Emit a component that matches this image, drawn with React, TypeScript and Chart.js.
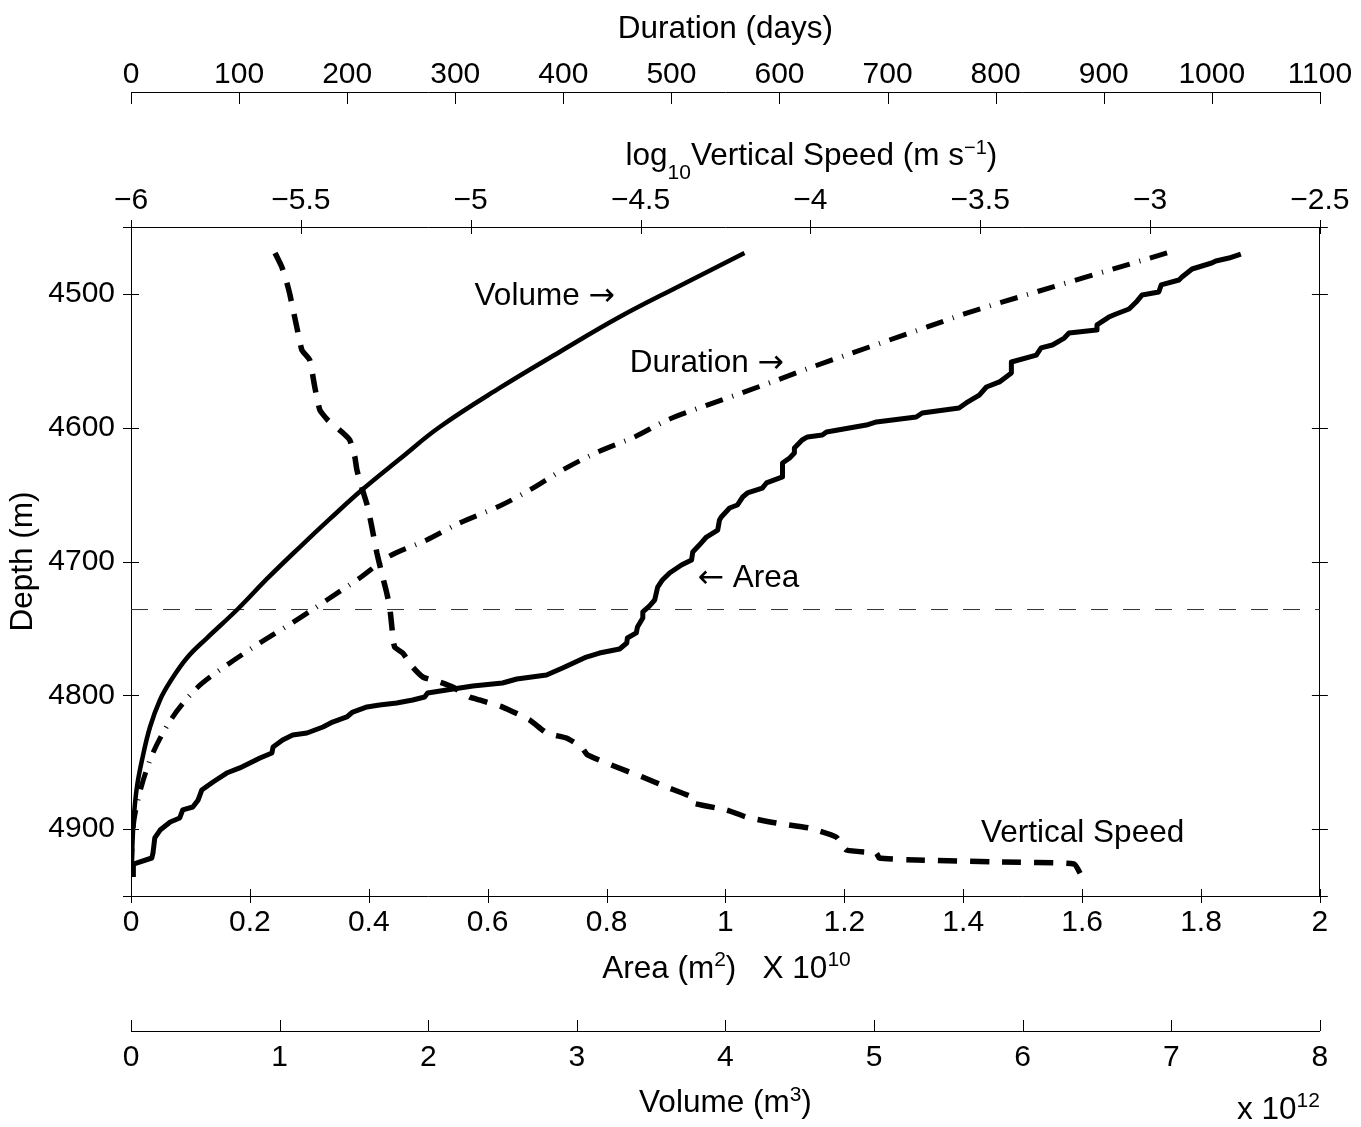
import React, { useEffect, useRef } from "react";
import { Chart, registerables } from "chart.js";

Chart.register(...registerables);

const FONT = "'Liberation Sans', Arial, Helvetica, sans-serif";
const ARROW_FONT = "'DejaVu Sans', 'Liberation Sans', sans-serif";

// ---- axis ticks ----
const depthTicks = [4500, 4600, 4700, 4800, 4900];
const depthTickLabels = ["4500", "4600", "4700", "4800", "4900"];
const areaTicks = [0, 0.2, 0.4, 0.6, 0.8, 1, 1.2, 1.4, 1.6, 1.8, 2];
const areaTickLabels = ["0", "0.2", "0.4", "0.6", "0.8", "1", "1.2", "1.4", "1.6", "1.8", "2"];
const volumeTicks = [0, 1, 2, 3, 4, 5, 6, 7, 8];
const volumeTickLabels = ["0", "1", "2", "3", "4", "5", "6", "7", "8"];
const speedTicks = [-6, -5.5, -5, -4.5, -4, -3.5, -3, -2.5];
const speedTickLabels = ["\u22126", "\u22125.5", "\u22125", "\u22124.5", "\u22124", "\u22123.5", "\u22123", "\u22122.5"];
const durationTicks = [0, 100, 200, 300, 400, 500, 600, 700, 800, 900, 1000, 1100];
const durationTickLabels = ["0", "100", "200", "300", "400", "500", "600", "700", "800", "900", "1000", "1100"];

// ---- series (x value, depth) ----
const areaValues = [0.004,0.004,0.035,0.037,0.040,0.049,0.066,0.082,0.087,0.104,0.113,0.119,0.138,0.161,0.183,0.217,0.237,0.239,0.255,0.272,0.296,0.323,0.339,0.363,0.373,0.397,0.418,0.447,0.474,0.494,0.499,0.531,0.575,0.625,0.649,0.699,0.726,0.766,0.788,0.822,0.834,0.835,0.850,0.852,0.861,0.861,0.872,0.881,0.886,0.894,0.906,0.926,0.943,0.945,0.956,0.968,0.987,0.990,0.993,1.007,1.020,1.029,1.037,1.062,1.069,1.096,1.096,1.108,1.116,1.116,1.129,1.138,1.163,1.170,1.237,1.254,1.321,1.331,1.393,1.405,1.427,1.439,1.461,1.481,1.481,1.523,1.531,1.550,1.570,1.578,1.624,1.625,1.645,1.657,1.679,1.691,1.701,1.729,1.733,1.763,1.768,1.785,1.818,1.825,1.847,1.867];
const areaDepths = [4935.8,4926.1,4921.6,4917.9,4906.6,4900.7,4894.7,4891.7,4885.7,4883.5,4878.2,4870.8,4864.8,4858.1,4854.3,4846.9,4843.1,4838.6,4833.4,4829.7,4828.2,4823.7,4820.0,4816.2,4812.5,4808.7,4807.3,4805.8,4803.5,4801.3,4798.3,4796.0,4793.0,4790.8,4787.8,4784.8,4779.6,4771.4,4768.4,4765.4,4760.9,4757.2,4753.4,4749.0,4742.2,4737.7,4733.3,4728.8,4719.1,4713.8,4708.6,4702.6,4698.9,4692.9,4687.7,4681.7,4676.5,4669.0,4666.7,4660.0,4657.8,4651.8,4648.8,4645.1,4641.3,4636.8,4626.4,4622.6,4618.9,4615.2,4609.2,4606.9,4605.5,4603.2,4598.0,4595.7,4592.0,4589.0,4585.3,4581.5,4575.6,4569.6,4565.8,4559.1,4550.9,4545.7,4540.4,4538.2,4533.0,4529.2,4527.0,4523.2,4517.3,4515.0,4511.3,4506.1,4500.8,4498.6,4493.3,4489.6,4487.4,4481.4,4476.9,4475.4,4473.2,4470.2];

const volumeValues = [4.128,3.691,3.287,2.884,2.481,2.077,1.808,1.553,1.338,1.136,0.921,0.719,0.511,0.376,0.262,0.195,0.128,0.074,0.040,0.020,0.013,0.007,0.003];
const volumeDepths = [4469.4,4494.1,4517.3,4543.4,4570.3,4599.5,4623.4,4646.6,4668.2,4689.2,4712.3,4735.5,4757.2,4772.1,4790.1,4803.5,4823.7,4848.4,4868.5,4889.5,4902.9,4919.4,4935.8];

const durationValues = [958.6,803.3,770.9,736.7,701.6,664.6,630.4,598.1,564.8,530.6,496.4,465.9,431.7,399.3,368.8,341.1,304.1,273.6,239.4,211.7,181.2,170.1,148.8,119.2,88.7,61.0,37.9,20.3,9.2,2.8,0.9,0.5];
const durationDepths = [4469.4,4506.8,4515.0,4524.7,4534.5,4544.9,4554.6,4564.3,4574.1,4583.8,4594.2,4606.9,4618.2,4631.6,4646.6,4658.5,4671.2,4683.9,4695.9,4712.3,4728.8,4734.8,4746.0,4760.9,4777.4,4794.5,4817.0,4843.1,4869.3,4893.2,4915.6,4932.1];

const speedValues = [-5.576,-5.556,-5.541,-5.532,-5.512,-5.497,-5.474,-5.459,-5.444,-5.421,-5.379,-5.356,-5.341,-5.335,-5.321,-5.303,-5.291,-5.276,-5.262,-5.247,-5.238,-5.232,-5.224,-5.200,-5.171,-5.141,-5.091,-5.053,-5.003,-4.974,-4.906,-4.826,-4.776,-4.718,-4.674,-4.656,-4.571,-4.494,-4.424,-4.350,-4.347,-4.247,-4.188,-4.100,-4.003,-3.924,-3.894,-3.806,-3.797,-3.688,-3.444,-3.224,-3.200];
const speedDepths = [4469.4,4479.9,4491.9,4500.8,4524.7,4541.9,4549.4,4569.6,4586.8,4594.2,4603.2,4609.2,4621.9,4631.6,4644.3,4659.3,4674.2,4693.7,4708.6,4723.6,4734.8,4749.0,4763.9,4768.4,4778.9,4786.3,4790.1,4793.8,4801.3,4803.5,4808.8,4818.5,4828.2,4831.9,4838.6,4844.6,4853.6,4861.1,4868.5,4876.0,4880.5,4885.7,4891.0,4895.5,4899.2,4905.9,4915.6,4917.9,4921.6,4923.1,4924.6,4926.1,4935.8];

const markerDepth = 4735.9;
const markerSpan = [0, 2];

// in-plot labels (area value, depth); arrows before/after
const labelTexts = ["Volume ", "Duration ", " Area", "Vertical Speed"];
const labelArrows = ["after", "after", "before", "none"];
const labelArea = [0.578, 0.839, 0.953, 1.43];
const labelDepth = [4508.3, 4558.4, 4719.1, 4909.6];

const toPoints = (xs: number[], ds: number[]) => xs.map((x, i) => ({ x, y: ds[i] }));

type Part = [string, number, number, string?];

function drawParts(ctx: CanvasRenderingContext2D, parts: Part[], x: number, y: number, align: string) {
  let total = 0;
  const widths = parts.map(([t, s, _d, f]) => {
    ctx.font = `${s}px ${f || FONT}`;
    const w = ctx.measureText(t).width;
    total += w;
    return w;
  });
  let cx = align === "left" ? x : align === "center" ? x - total / 2 : x - total;
  ctx.textAlign = "left";
  ctx.textBaseline = "alphabetic";
  parts.forEach(([t, s, dy, f], i) => {
    ctx.font = `${s}px ${f || FONT}`;
    ctx.fillText(t, cx, y + dy);
    cx += widths[i];
  });
}

const decor = {
  id: "decor",
  afterDraw(chart: any) {
    const { ctx, chartArea: ca, scales } = chart;
    ctx.save();
    ctx.strokeStyle = "#000";
    ctx.fillStyle = "#000";
    ctx.lineWidth = 1;
    const line = (x1: number, y1: number, x2: number, y2: number) => {
      ctx.beginPath();
      ctx.moveTo(x1, y1);
      ctx.lineTo(x2, y2);
      ctx.stroke();
    };
    const px = (v: number) => Math.round(v) + 0.5;
    const depth = scales.depth;
    [depth.min, ...depthTicks, depth.max].forEach((v: number) => {
      const y = px(depth.getPixelForValue(v));
      line(ca.left - 8, y, ca.left + 8, y);
      line(ca.right - 8, y, ca.right + 8, y);
    });
    areaTicks.forEach((v) => {
      const x = px(scales.area.getPixelForValue(v));
      line(x, ca.bottom - 7, x, ca.bottom + 7);
    });
    speedTicks.forEach((v) => {
      const x = px(scales.speed.getPixelForValue(v));
      line(x, ca.top - 7, x, ca.top + 7);
    });
    const dur = scales.duration;
    durationTicks.forEach((v) => {
      const x = px(dur.getPixelForValue(v));
      line(x, dur.bottom, x, dur.bottom + 12);
    });
    const vol = scales.volume;
    volumeTicks.forEach((v) => {
      const x = px(vol.getPixelForValue(v));
      line(x, vol.top, x, vol.top - 11);
    });

    // in-plot labels
    labelTexts.forEach((t, i) => {
      const parts: Part[] = [];
      if (labelArrows[i] === "before") parts.push(["\u2190", 31.5, 0, ARROW_FONT]);
      parts.push([t, 31.5, 0]);
      if (labelArrows[i] === "after") parts.push(["\u2192", 31.5, 0, ARROW_FONT]);
      drawParts(ctx, parts, scales.area.getPixelForValue(labelArea[i]), depth.getPixelForValue(labelDepth[i]), "left");
    });

    // axis titles with sub/superscripts
    const sp = scales.speed;
    drawParts(
      ctx,
      [["log", 31.5, 0], ["10", 21, 14], ["Vertical Speed (m s", 31.5, 0], ["\u22121", 20, -11], [")", 31.5, 0]],
      (sp.left + sp.right) / 2 + 86,
      sp.top + 73,
      "center"
    );
    const ar = scales.area;
    drawParts(
      ctx,
      [["Area (m", 31.5, 0], ["2", 21, -12], [")   X 10", 31.5, 0], ["10", 21, -12]],
      (ar.left + ar.right) / 2 + 1,
      ar.top + 82,
      "center"
    );
    drawParts(
      ctx,
      [["Volume (m", 31.5, 0], ["3", 21, -11], [")", 31.5, 0]],
      (vol.left + vol.right) / 2,
      vol.top + 81,
      "center"
    );
    drawParts(ctx, [["x 10", 31.5, 0], ["12", 21, -12]], vol.right, vol.top + 88, "right");
    ctx.restore();
  },
};

const tickFont = { family: FONT, size: 30, lineHeight: 1 };
const titleFont = { family: FONT, size: 31.5, lineHeight: 1 };

function xScale(position: string, weight: number, min: number, max: number, ticks: number[], labels: string[], size: number, padding: number, extra: any = {}) {
  return {
    type: "linear",
    position,
    weight,
    min,
    max,
    afterBuildTicks: (s: any) => {
      s.ticks = ticks.map((v) => ({ value: v }));
    },
    afterFit: (s: any) => {
      s.height = size;
    },
    grid: { display: false, drawTicks: false },
    border: { display: true, color: "#000", width: 1 },
    ticks: {
      color: "#000",
      font: tickFont,
      padding,
      autoSkip: false,
      maxRotation: 0,
      minRotation: 0,
      callback: (_v: any, i: number) => labels[i],
    },
    ...extra,
  };
}

export default function App() {
  const ref = useRef<HTMLCanvasElement>(null);
  useEffect(() => {
    const lineBase = { showLine: true, pointRadius: 0, pointHoverRadius: 0, borderColor: "#000", yAxisID: "depth", fill: false };
    const chart = new Chart(ref.current as HTMLCanvasElement, {
      type: "scatter",
      data: {
        datasets: [
          { ...lineBase, label: "Area", data: toPoints(areaValues, areaDepths), xAxisID: "area", borderWidth: 5, tension: 0, borderJoinStyle: "round" },
          { ...lineBase, label: "Volume", data: toPoints(volumeValues, volumeDepths), xAxisID: "volume", borderWidth: 4.5, tension: 0.4 },
          { ...lineBase, label: "Duration", data: toPoints(durationValues, durationDepths), xAxisID: "duration", borderWidth: 5, tension: 0.3, borderDash: [18, 10, 1, 10], borderCapStyle: "butt" },
          { ...lineBase, label: "Vertical Speed", data: toPoints(speedValues, speedDepths), xAxisID: "speed", borderWidth: 5.5, tension: 0.15, borderDash: [19, 13], borderCapStyle: "butt" },
          { ...lineBase, label: "marker", data: markerSpan.map((x) => ({ x, y: markerDepth })), xAxisID: "area", borderColor: "#333", borderWidth: 1, borderDash: [17, 15] },
        ],
      } as any,
      options: {
        responsive: false,
        animation: false,
        events: [],
        layout: { padding: 0 },
        plugins: { legend: { display: false }, tooltip: { enabled: false } },
        scales: {
          depth: {
            type: "linear",
            position: "left",
            reverse: true,
            min: 4450,
            max: 4950,
            afterBuildTicks: (s: any) => {
              s.ticks = depthTicks.map((v) => ({ value: v }));
            },
            afterFit: (s: any) => {
              s.width = 131;
            },
            grid: { display: false, drawTicks: false },
            border: { display: true, color: "#000", width: 1 },
            ticks: { color: "#000", font: tickFont, padding: 16, autoSkip: false, callback: (_v: any, i: number) => depthTickLabels[i] },
            title: { display: true, text: "Depth (m)", color: "#000", font: titleFont, padding: { top: 8, bottom: 0 } },
          },
          depthR: {
            type: "linear",
            position: "right",
            reverse: true,
            min: 4450,
            max: 4950,
            afterFit: (s: any) => {
              s.width = 40;
            },
            grid: { display: false, drawTicks: false },
            border: { display: true, color: "#000", width: 1 },
            ticks: { display: false },
          },
          speed: xScale("top", 0, -6, -2.5, speedTicks, speedTickLabels, 135, 11.5),
          duration: xScale("top", 1, 0, 1100, durationTicks, durationTickLabels, 92, 2, {
            title: { display: true, text: "Duration (days)", color: "#000", font: titleFont, padding: { top: 14, bottom: 0 } },
          }),
          area: xScale("bottom", 0, 0, 2, areaTicks, areaTickLabels, 135, 12),
          volume: xScale("bottom", 1, 0, 8, volumeTicks, volumeTickLabels, 96, 12),
        },
      } as any,
      plugins: [decor],
    });
    return () => chart.destroy();
  }, []);
  return (
    <div style={{ position: "fixed", left: 0, top: 0, width: 1361, height: 1127, background: "#fff" }}>
      <canvas ref={ref} width={1361} height={1127} style={{ display: "block", width: 1361, height: 1127 }} />
    </div>
  );
}
